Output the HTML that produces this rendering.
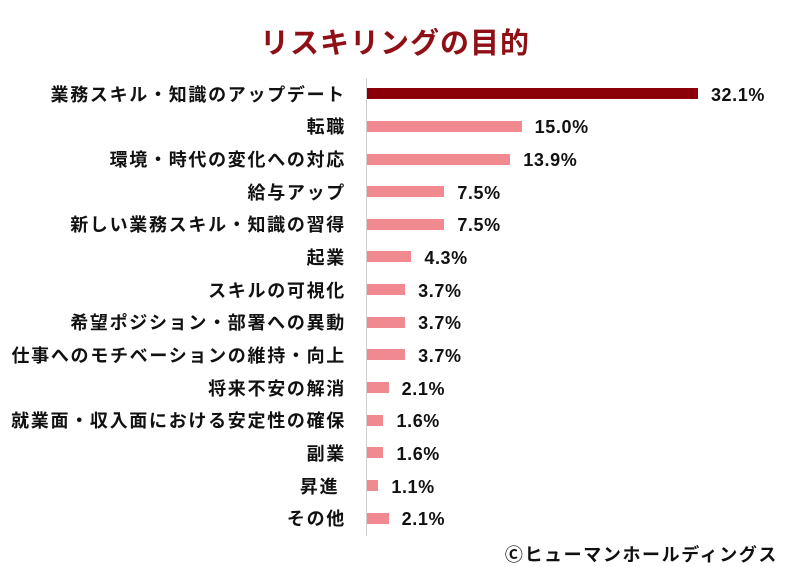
<!DOCTYPE html>
<html><head><meta charset="utf-8"><style>
body{margin:0;background:#fff;width:790px;height:564px;overflow:hidden;position:relative;font-family:"Liberation Sans","Noto Sans CJK JP",sans-serif;}
.t{position:absolute;top:20px;left:0;width:790px;text-align:center;font-size:29px;font-weight:bold;color:#8E0F16;letter-spacing:1px;}
.ax{position:absolute;left:366px;top:78px;width:1px;height:458px;background:#d0d0d0;}
.l{position:absolute;right:444px;font-size:18px;font-weight:bold;color:#111;letter-spacing:1.7px;white-space:pre;line-height:20px;}
.b{position:absolute;left:367px;height:11px;background:#F08A90;}
.v{position:absolute;font-size:18px;font-weight:bold;color:#111;line-height:20px;letter-spacing:0.6px;}
.f{position:absolute;right:12px;top:541px;font-size:18px;font-weight:bold;color:#111;letter-spacing:1.6px;}
</style></head><body>
<div class="t">リスキリングの目的</div>
<div class="ax"></div>
<div id="c"></div>
<div class="f">Ⓒヒューマンホールディングス</div>
<script>
var d=[["業務スキル・知識のアップデート",32.1],["転職",15.0],["環境・時代の変化への対応",13.9],["給与アップ",7.5],["新しい業務スキル・知識の習得",7.5],["起業",4.3],["スキルの可視化",3.7],["希望ポジション・部署への異動",3.7],["仕事へのモチベーションの維持・向上",3.7],["将来不安の解消",2.1],["就業面・収入面における安定性の確保",1.6],["副業",1.6],["昇進 ",1.1],["その他",2.1]];
var h="";
d.forEach(function(r,i){var c=93.7+i*32.65;var w=r[1]*10.31;
h+='<div class="l" style="top:'+(c-9)+'px">'+r[0]+'</div>';
h+='<div class="b" style="top:'+(c-5.5)+'px;width:'+w+'px;'+(i==0?'background:#8B0008':'')+'"></div>';
h+='<div class="v" style="top:'+(c-9)+'px;left:'+(367+w+13)+'px">'+r[1].toFixed(1)+'%</div>';});
document.getElementById("c").innerHTML=h;
</script>
</body></html>
